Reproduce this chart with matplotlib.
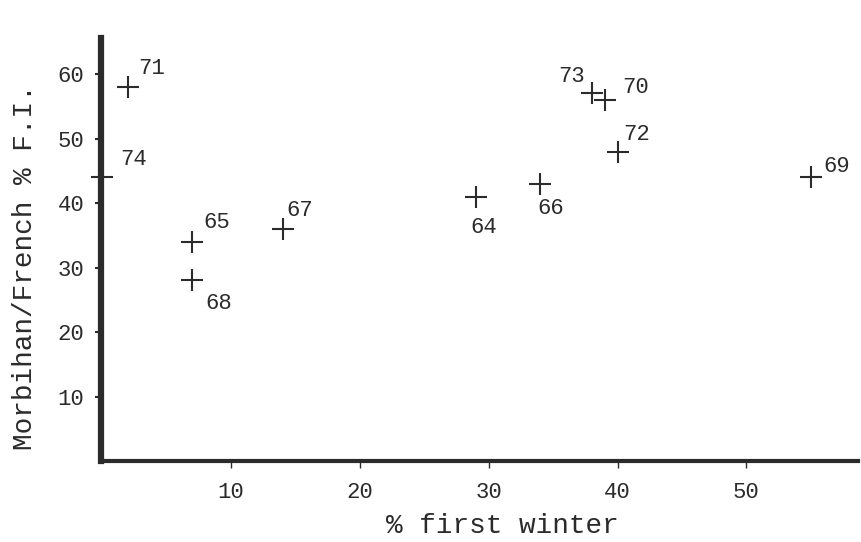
import matplotlib.pyplot as plt

# dati
years = ['64', '65', '66', '67', '68', '69', '70', '71', '72', '73', '74']
first_winter = [29, 7, 34, 14, 7, 55, 39, 2, 40, 38, 0]
morbihan_fi = [41, 34, 43, 36, 28, 44, 56, 58, 48, 57, 44]

# posizione delle etichette (offset in punti, allineamento)
label_pos = {
    '64': (-4, -15, 'left', 'top'),
    '65': (8, 6, 'left', 'bottom'),
    '66': (-2, -10, 'left', 'top'),
    '67': (3, 6, 'left', 'bottom'),
    '68': (9, -9, 'left', 'top'),
    '69': (9, 0, 'left', 'bottom'),
    '70': (13, 9, 'left', 'center'),
    '71': (7, 6, 'left', 'bottom'),
    '72': (4, 5, 'left', 'bottom'),
    '73': (-5, 5, 'right', 'bottom'),
    '74': (13, 5, 'left', 'bottom'),
}

ink = '#2b2b2b'
mono = 'Liberation Mono'

fig = plt.figure(figsize=(8.61, 5.42), dpi=100)
ax = fig.add_axes([0.1173, 0.1494, 0.879, 0.7804])

ax.plot(first_winter, morbihan_fi, linestyle='none', marker='+',
        markersize=16, markeredgewidth=1.5, color=ink, clip_on=False)

for yr, xv, yv in zip(years, first_winter, morbihan_fi):
    dx, dy, ha, va = label_pos[yr]
    ax.annotate(yr, (xv, yv), xytext=(dx, dy), textcoords='offset points',
                ha=ha, va=va, fontsize=16, family=mono, color=ink)

ax.set_xlim(-0.1, 58.65)
ax.set_ylim(0, 65.6)
ax.set_xticks([10, 20, 30, 40, 50])
ax.set_yticks([10, 20, 30, 40, 50, 60])

for side in ['top', 'right']:
    ax.spines[side].set_visible(False)
ax.spines['left'].set_linewidth(4.5)
ax.spines['bottom'].set_linewidth(3)
ax.spines['left'].set_color(ink)
ax.spines['bottom'].set_color(ink)

ax.tick_params(axis='y', direction='out', length=4, width=1.5, pad=8,
               colors=ink, labelsize=16)
ax.tick_params(axis='x', direction='out', length=5, width=1, pad=10,
               colors=ink, labelsize=16)
for lab in ax.get_xticklabels() + ax.get_yticklabels():
    lab.set_family(mono)

ax.set_xlabel('% first winter', family=mono, fontsize=20, color=ink)
ax.set_ylabel('Morbihan/French % F.I.', family=mono, fontsize=20, color=ink)
ax.xaxis.label.set_va('baseline')
ax.xaxis.set_label_coords(0.531, -0.170)
ax.yaxis.set_label_coords(-0.083, 0.459)

fig.savefig('out.png', dpi=100)
